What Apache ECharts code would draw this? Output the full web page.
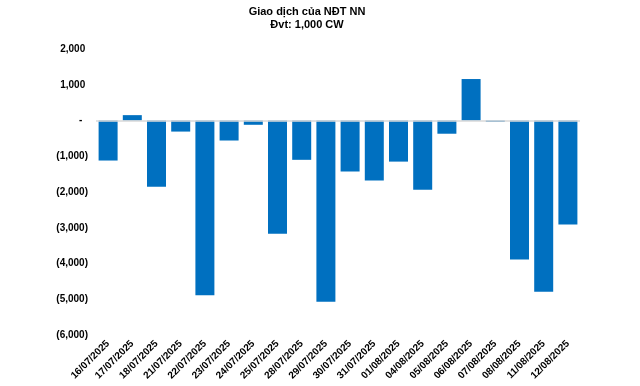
<!DOCTYPE html>
<html>
<head>
<meta charset="utf-8">
<script src="https://cdn.jsdelivr.net/npm/echarts@6/dist/echarts.min.js"></script>
<style>html,body{margin:0;padding:0;background:#fff}#c{width:640px;height:386px}</style>
</head>
<body>
<div id="c"></div>
<script>
const categories = ['16/07/2025','17/07/2025','18/07/2025','21/07/2025','22/07/2025','23/07/2025','24/07/2025','25/07/2025','28/07/2025','29/07/2025','30/07/2025','31/07/2025','01/08/2025','04/08/2025','05/08/2025','06/08/2025','07/08/2025','08/08/2025','11/08/2025','12/08/2025'];
const netValues = [-1120, 150, -1850, -310, -4890, -560, -120, -3170, -1100, -5070, -1430, -1680, -1150, -1940, -370, 1160, -40, -3890, -4790, -2910];
const titleText = 'Giao dịch của NĐT NN';
const unitText = 'Đvt: 1,000 CW';

const fmt = v => {
  if (v === 0) return '-  ';
  const s = Math.abs(v).toLocaleString('en-US');
  return v < 0 ? '(' + s + ')' : s + ' ';
};

const chart = echarts.init(document.getElementById('c'));
chart.setOption({
  animation: false,
  title: {
    text: titleText,
    subtext: unitText,
    left: 302,
    textAlign: 'center',
    top: 1,
    itemGap: 2,
    textStyle: {fontFamily: 'Liberation Sans', fontWeight: 'bold', fontSize: 11, color: '#000'},
    subtextStyle: {fontFamily: 'Liberation Sans', fontWeight: 'bold', fontSize: 11, color: '#000'}
  },
  grid: {left: 96, right: 60, top: 49, bottom: 51, containLabel: false},
  xAxis: {
    type: 'category',
    data: categories,
    axisLine: {show: false, onZero: false},
    axisTick: {show: false},
    axisLabel: {
      rotate: 45, margin: 7, interval: 0,
      fontFamily: 'Liberation Sans', fontWeight: 'bold', fontSize: 10, color: '#000'
    }
  },
  yAxis: {
    type: 'value',
    min: -6000, max: 2000, interval: 1000,
    splitLine: {show: false},
    axisLine: {show: false},
    axisTick: {show: false},
    axisLabel: {
      formatter: fmt, margin: 8,
      fontFamily: 'Liberation Sans', fontWeight: 'bold', fontSize: 10, color: '#000'
    }
  },
  series: [{
    type: 'bar',
    data: netValues,
    barWidth: 19,
    itemStyle: {color: '#0070C0'},
    markLine: {
      silent: true,
      symbol: 'none',
      label: {show: false},
      lineStyle: {color: '#d9d9d9', type: 'solid', width: 1.5},
      data: [{yAxis: 0}]
    }
  }]
});
</script>
</body>
</html>
